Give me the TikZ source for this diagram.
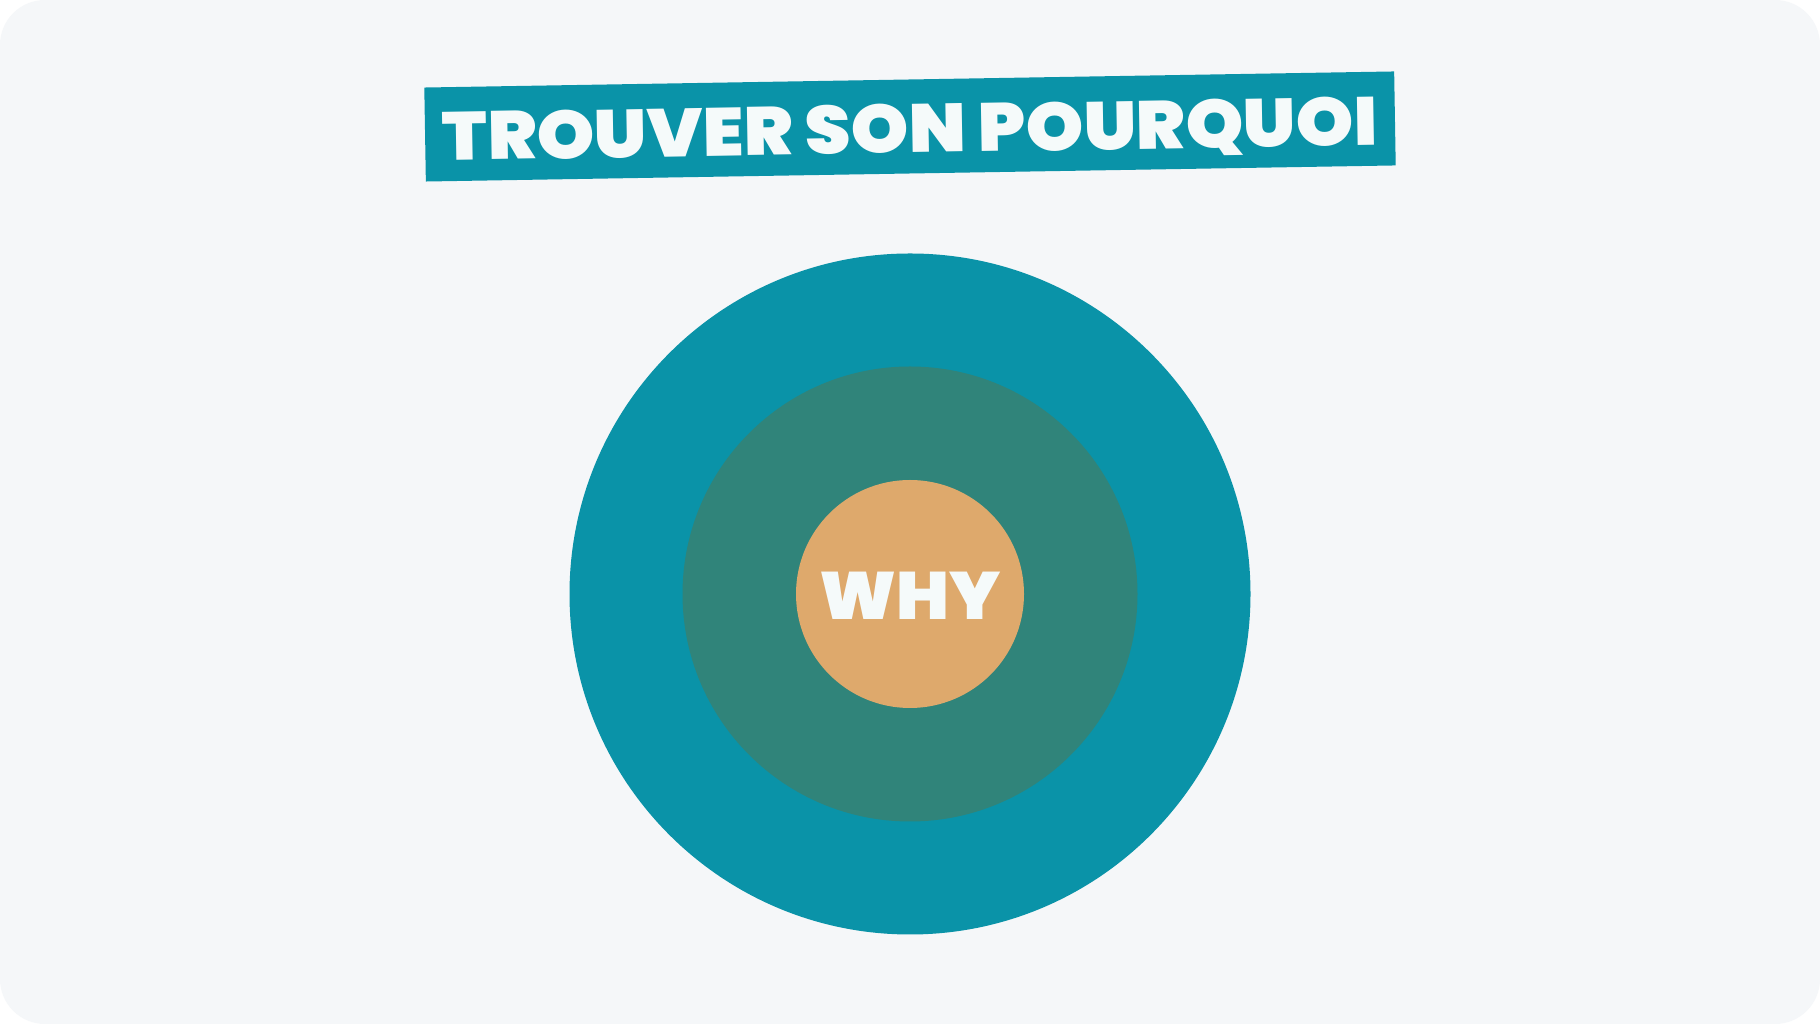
\documentclass[tikz,border=0pt]{standalone}
\usepackage{fontspec}
\newfontfamily\titlefont{Poppins Black}[FakeStretch=1.078]
\newfontfamily\whyfont{Poppins Black}[FakeStretch=1.047]
\definecolor{pagebg}{HTML}{F5F7F9}
\definecolor{teal}{HTML}{0A93A8}
\definecolor{sage}{HTML}{30847A}
\definecolor{sand}{HTML}{DEA96C}
\definecolor{snow}{HTML}{F5FAFA}
\tikzset{
    ring/.style={circle, draw=none, inner sep=0pt},
    bigword/.style={text=snow, inner sep=0pt, text depth=0pt}
}
\begin{document}
\begin{tikzpicture}[x=1pt, y=1pt]

    % --- Page ---
    \fill[white] (0,0) rectangle (1820,1024);
    \useasboundingbox (0,0) rectangle (1820,1024);
    \fill[pagebg, rounded corners=45pt] (0,0) rectangle (1820,1024);

    % --- Title banner ---
    \node[fill=teal, minimum width=970pt, minimum height=94pt, rotate=0.95]
        (banner) at (910,897.5) {};
    \node[bigword, rotate=0.95, yshift=-2pt, font=\fontsize{68}{68}\selectfont\titlefont]
        (title) at (banner.center) {TROUVER SON POURQUOI};

    % --- Circles ---
    \coordinate (O) at (910,430);
    \node[ring, fill=teal, minimum size=681pt] (outer) at (O) {};
    \node[ring, fill=sage, minimum size=455pt] (middle) at (O) {};
    \node[ring, fill=sand, minimum size=228pt] (inner) at (O) {};

    % --- Centre word ---
    \node[bigword, yshift=-2pt, font=\fontsize{67}{67}\selectfont\whyfont]
        (why) at (inner.center) {WHY};

\end{tikzpicture}
\end{document}
